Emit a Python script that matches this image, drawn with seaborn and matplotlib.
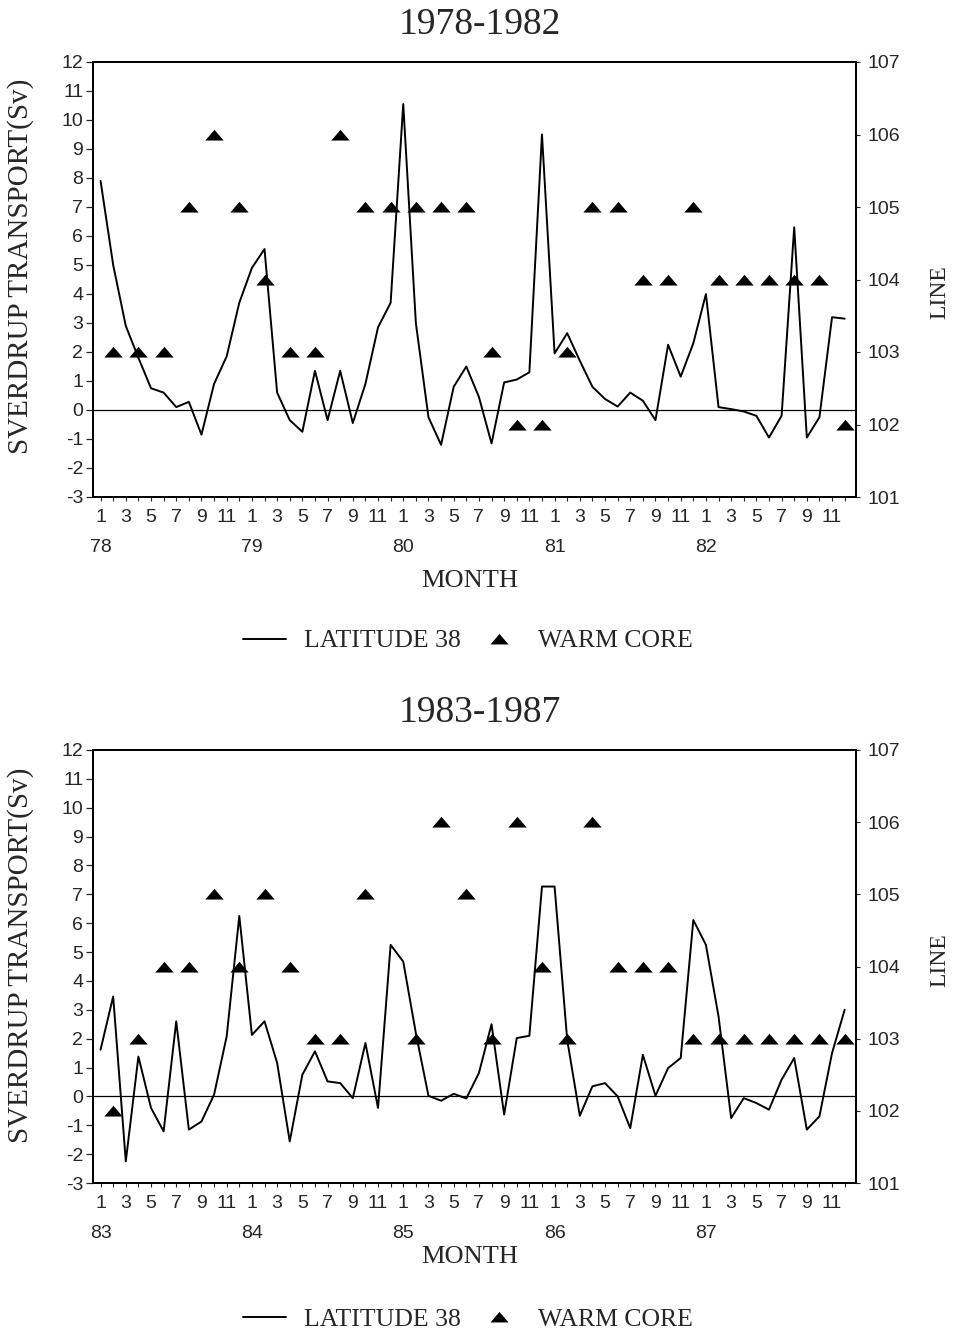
import numpy as np
import pandas as pd
import matplotlib
matplotlib.use("Agg")
import matplotlib.pyplot as plt
import seaborn as sns
from matplotlib.lines import Line2D

# ---------------- data ----------------
month_names = [str(m) for m in range(1, 13)]
years_top = ["78", "79", "80", "81", "82"]
years_bot = ["83", "84", "85", "86", "87"]

transport_top = [7.9, 5.0, 2.9, 1.8, 0.75, 0.6, 0.1, 0.28, -0.85, 0.9,
                 1.85, 3.7, 4.9, 5.55, 0.6, -0.35, -0.75, 1.35, -0.35, 1.35,
                 -0.45, 0.9, 2.85, 3.7, 10.55, 3.0, -0.25, -1.2, 0.8, 1.5,
                 0.45, -1.15, 0.95, 1.05, 1.3, 9.5, 1.95, 2.65, 1.7, 0.8,
                 0.38, 0.12, 0.6, 0.32, -0.35, 2.25, 1.15, 2.3, 4.0, 0.1,
                 0.03, -0.05, -0.2, -0.95, -0.2, 6.3, -0.95, -0.25, 3.2, 3.15]

transport_bot = [1.62, 3.46, -2.25, 1.38, -0.4, -1.21, 2.6, -1.15, -0.87, 0.06,
                 2.08, 6.25, 2.13, 2.6, 1.16, -1.56, 0.75, 1.56, 0.52, 0.46,
                 -0.06, 1.85, -0.4, 5.25, 4.67, 2.19, 0.02, -0.15, 0.09, -0.07,
                 0.81, 2.5, -0.63, 2.02, 2.1, 7.27, 7.27, 1.96, -0.67, 0.35,
                 0.46, 0.0, -1.1, 1.44, 0.02, 0.98, 1.33, 6.11, 5.25, 2.77,
                 -0.75, -0.06, -0.23, -0.46, 0.58, 1.33, -1.15, -0.69, 1.5, 3.0]

wc_top_month = [1, 3, 5, 7, 9, 11, 13, 15, 17, 19, 21, 23, 25, 27, 29,
                31, 33, 35, 37, 39, 41, 43, 45, 47, 49, 51, 53, 55, 57, 59]
wc_top_line = [103, 103, 103, 105, 106, 105, 104, 103, 103, 106, 105, 105, 105, 105, 105,
               103, 102, 102, 103, 105, 105, 104, 104, 105, 104, 104, 104, 104, 104, 102]

wc_bot_month = [1, 3, 5, 7, 9, 11, 13, 15, 17, 19, 21, 25, 27, 29,
                31, 33, 35, 37, 39, 41, 43, 45, 47, 49, 51, 53, 55, 57, 59]
wc_bot_line = [102, 103, 104, 104, 105, 104, 105, 104, 103, 103, 105, 103, 106, 105,
               103, 106, 104, 103, 106, 104, 104, 104, 103, 103, 103, 103, 103, 103, 103]

panels = [
    ("1978-1982", years_top, transport_top, wc_top_month, wc_top_line),
    ("1983-1987", years_bot, transport_bot, wc_bot_month, wc_bot_line),
]

# ---------------- style ----------------
sns.set_theme(style="ticks")
plt.rcParams["font.family"] = ["Liberation Sans", "DejaVu Sans"]
SERIF = ["Liberation Serif", "DejaVu Serif"]

W, H = 956, 1335
fig = plt.figure(figsize=(W / 100, H / 100), dpi=100)
fig.patch.set_facecolor("white")

tri = [(-1.0, -0.55), (1.0, -0.55), (0.0, 0.62)]

axes_px = [(62, 497), (750, 1183)]
title_y = [25, 713]
month_y = [581, 1257]
legend_y = [641, 1320]
ylab_y = [266, 955]
line_y = [292, 960]

for k, (title, years, vals, wc_m, wc_l) in enumerate(panels):
    top, bot = axes_px[k]
    left, right = 93, 856
    ax = fig.add_axes([left / W, 1 - bot / H, (right - left) / W, (bot - top) / H])
    idx = np.arange(len(vals))
    df = pd.DataFrame({"i": idx, "v": vals})
    sns.lineplot(data=df, x="i", y="v", ax=ax, color="black", linewidth=1.4)
    ax.axhline(0, color="black", linewidth=0.9)
    ax.set_xlim(-0.6, 59.9)
    ax.set_ylim(-3, 12)
    ax.set_yticks(np.arange(-3, 13, 1))
    ax.set_yticklabels([str(v) for v in range(-3, 13)], fontsize=14)
    ax.set_xticks(idx)
    labels = []
    for i in idx:
        m = i % 12 + 1
        labels.append(month_names[m - 1] if m % 2 == 1 else "")
    ax.set_xticklabels(labels, fontsize=14)
    ax.tick_params(axis="x", direction="out", length=3, width=0.8, pad=6)
    ax.tick_params(axis="y", direction="out", length=5, width=0.9, pad=2)
    ax.set_xlabel("")
    ax.set_ylabel("")
    for s in ax.spines.values():
        s.set_linewidth(1.3)
        s.set_color("black")
    for j, yr in enumerate(years):
        ax.text(j * 12, -0.117, yr, transform=ax.get_xaxis_transform(),
                ha="center", va="center", fontsize=14)

    ax2 = ax.twinx()
    wdf = pd.DataFrame({"m": wc_m, "line": wc_l})
    sns.scatterplot(data=wdf, x="m", y="line", ax=ax2, marker=tri, s=175,
                    color="black", edgecolor="black", linewidth=0, zorder=3)
    ax2.set_ylim(101, 107)
    ax2.set_yticks(np.arange(101, 108, 1))
    ax2.set_yticklabels([str(v) for v in range(101, 108)], fontsize=14)
    ax2.tick_params(axis="y", direction="out", length=3, width=0.8, pad=5)
    ax2.set_ylabel("")
    ax2.set_xlabel("")
    for s in ax2.spines.values():
        s.set_linewidth(1.3)
        s.set_color("black")

    fig.text(480 / W, 1 - title_y[k] / H, title, ha="center", va="center",
             fontsize=27, family=SERIF)
    fig.text(470 / W, 1 - month_y[k] / H, "MONTH", ha="center", va="center",
             fontsize=19, family=SERIF)
    fig.text(21 / W, 1 - ylab_y[k] / H, "SVERDRUP TRANSPORT(Sv)", ha="center",
             va="center", rotation=90, fontsize=21, family=SERIF)
    fig.text(940 / W, 1 - line_y[k] / H, "LINE", ha="center",
             va="center", rotation=90, fontsize=17, family=SERIF)

    handles = [Line2D([], [], color="black", linewidth=1.4),
               Line2D([], [], color="black", marker=tri, linestyle="None",
                      markersize=13, markeredgewidth=0)]
    fig.legend(handles, ["LATITUDE 38", "WARM CORE"], loc="center",
               bbox_to_anchor=(468 / W, 1 - legend_y[k] / H), ncol=2,
               frameon=False, prop={"family": SERIF, "size": 18.5},
               handlelength=1.7, columnspacing=0.6, handletextpad=0.7)

fig.savefig("out.png", dpi=100, facecolor="white")
